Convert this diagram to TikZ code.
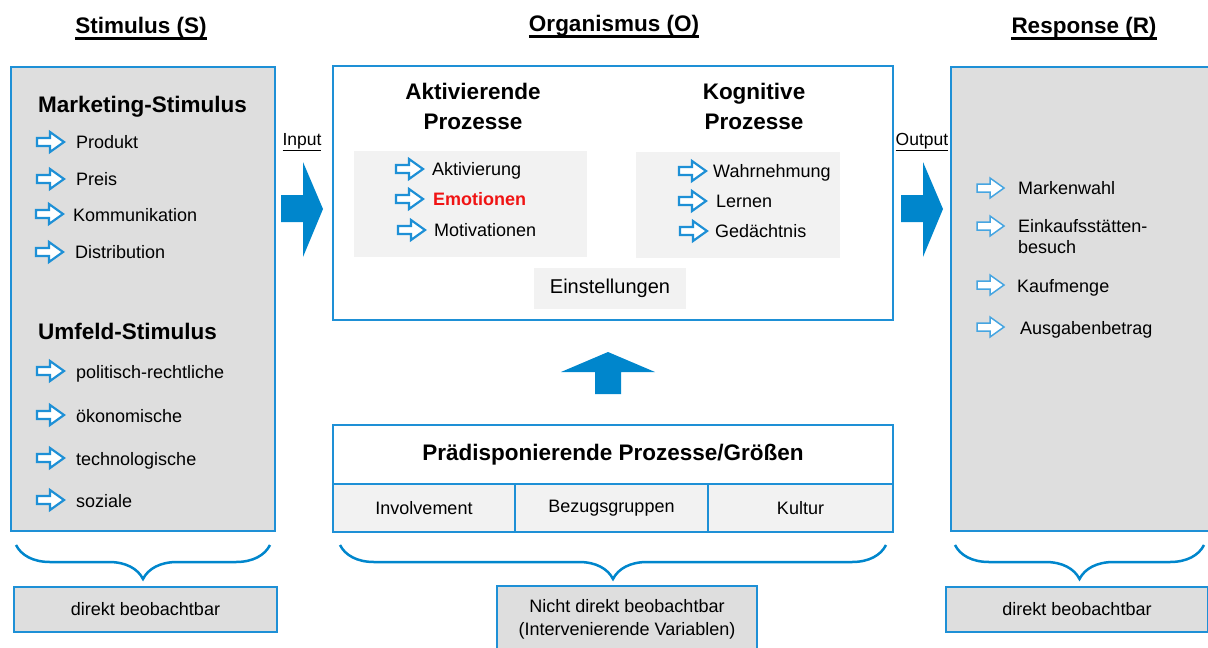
\documentclass[tikz,border=0pt]{standalone}
\usepackage{fontspec}
\setmainfont{Liberation Sans}
\usetikzlibrary{decorations.pathreplacing}
\definecolor{sorblue}{RGB}{0,134,204}
\definecolor{sorline}{RGB}{30,144,214}
\definecolor{sorlight}{RGB}{70,165,225}
\definecolor{sorgray}{RGB}{222,222,222}
\definecolor{sorpanel}{RGB}{242,242,242}
\definecolor{sorred}{RGB}{240,20,20}
\begin{document}
\begin{tikzpicture}[x=1pt,y=-1pt,inner sep=0pt,
  ttl/.style={font=\bfseries\fontsize{22.5}{26}\selectfont,text depth=0pt},
  head/.style={font=\bfseries\fontsize{22.5}{30}\selectfont,align=center},
  item/.style={anchor=west,font=\fontsize{18}{21}\selectfont,text height=15pt,text depth=2pt},
  io/.style={font=\fontsize{17.5}{20}\selectfont},
  sbox/.style={draw=sorline,line width=1.5pt,fill=sorgray},
  obox/.style={draw=sorline,line width=2.5pt,fill=white},
  panel/.style={fill=sorpanel},
  cell/.style={draw=sorline,line width=2.5pt,fill=sorpanel,minimum height=48pt,font=\fontsize{18}{21}\selectfont},
  note/.style={draw=sorline,line width=1.5pt,fill=sorgray,align=center,font=\fontsize{18}{23}\selectfont},
  brc/.style={draw=sorblue,line width=2.5pt,decorate,decoration={brace,mirror,amplitude=34pt}},
  bigarr/.style={fill=sorblue},
  itemarr/.pic={\draw[sorline,line width=2.2pt,fill=white] (0,-4)--(13,-4)--(13,-10)--(27,0)--(13,10)--(13,4)--(0,4)--cycle;},
  itemarrl/.pic={\draw[sorlight,line width=1.5pt,fill=white] (0,-4)--(13,-4)--(13,-10)--(27,0)--(13,10)--(13,4)--(0,4)--cycle;}]
\useasboundingbox (0,0) rectangle (1208,648);
% titles
\node[ttl] (stit) at (141,25) {Stimulus (S)};
\node[ttl] (otit) at (614,23) {Organismus (O)};
\node[ttl] (rtit) at (1084,25) {Response (R)};
\foreach \t in {stit,otit,rtit}
  \draw[line width=2.5pt] ([yshift=-5pt]\t.south west) -- ([yshift=-5pt]\t.south east);
% stimulus
\node[sbox,minimum width=264pt,minimum height=464pt] (lbox) at (143,299) {};
\node[head,anchor=west] (mstim) at (38,107) {Marketing-Stimulus};
\pic at (37,142) {itemarr}; \node[item] (prod) at (76,142) {Produkt};
\pic at (37,179) {itemarr}; \node[item] (preis) at (76,179) {Preis};
\pic at (36,214) {itemarr}; \node[item] (komm) at (73,215) {Kommunikation};
\pic at (36,252) {itemarr}; \node[item] (dist) at (75,252) {Distribution};
\node[head,anchor=west] (ustim) at (38,331) {Umfeld-Stimulus};
\pic at (37,371) {itemarr}; \node[item] (polit) at (76,372) {politisch-rechtliche};
\pic at (37,415) {itemarr}; \node[item] (oeko) at (76,416) {ökonomische};
\pic at (37,458) {itemarr}; \node[item] (tech) at (76,459) {technologische};
\pic at (37,500) {itemarr}; \node[item] (soz) at (76,501) {soziale};
% organismus
\node[obox,minimum width=560pt,minimum height=254pt] (obox) at (613,193) {};
\node[head] (aproz) at (473,106) {Aktivierende\\Prozesse};
\node[head] (kproz) at (754,106) {Kognitive\\Prozesse};
\node[panel,minimum width=233pt,minimum height=106pt] (apan) at (470.5,204) {};
\node[panel,minimum width=204pt,minimum height=106pt] (kpan) at (738,205) {};
\pic at (396,169) {itemarr}; \node[item] (aktiv) at (432,169) {Aktivierung};
\pic at (396,199) {itemarr}; \node[item,font=\bfseries\fontsize{18}{21}\selectfont,text=sorred] (emo) at (433,199) {Emotionen};
\pic at (398,230) {itemarr}; \node[item] (moti) at (434,230) {Motivationen};
\pic at (679,171) {itemarr}; \node[item] (wahr) at (713,171) {Wahrnehmung};
\pic at (679,201) {itemarr}; \node[item] (lern) at (716,201) {Lernen};
\pic at (680,231) {itemarr}; \node[item] (gedae) at (715,231) {Gedächtnis};
\node[panel,minimum width=152pt,minimum height=41pt,font=\fontsize{20}{24}\selectfont] (einst) at (610,288) {Einstellungen};
% input / output
\node[io] (inp) at (302,142) {\underline{Input}};
\fill[bigarr] (281,195) -- (303,195) -- (303,162) -- (323,209) -- (303,257) -- (303,222) -- (281,222) -- cycle;
\node[io] (outp) at (922,142) {\underline{Output}};
\fill[bigarr] (901,195) -- (923,195) -- (923,162) -- (943,209) -- (923,257) -- (923,222) -- (901,222) -- cycle;
\fill[bigarr] (595,394) -- (595,372) -- (561,372) -- (608,352) -- (655,372) -- (621,372) -- (621,394) -- cycle;
% response
\node[sbox,minimum width=258pt,minimum height=464pt] (rbox) at (1080,299) {};
\pic at (977,188) {itemarrl}; \node[item] (marke) at (1018,188) {Markenwahl};
\pic at (977,226) {itemarrl}; \node[anchor=west,align=left,font=\fontsize{18}{21}\selectfont] (einkauf) at (1018,237) {Einkaufsstätten-\\besuch};
\pic at (977,285) {itemarrl}; \node[item] (menge) at (1017,286) {Kaufmenge};
\pic at (977,327) {itemarrl}; \node[item] (ausg) at (1020,328) {Ausgabenbetrag};
% praedisponierende
\node[obox,minimum width=560pt,minimum height=59pt,font=\bfseries\fontsize{22.5}{26}\selectfont] (pbox) at (613,454.5) {Prädisponierende Prozesse/Größen};
\node[cell,minimum width=182pt] (inv) at (424,508) {Involvement};
\node[cell,minimum width=193pt] (bez) at (611.5,508) {Bezugsgruppen};
\node[cell,minimum width=185pt] (kult) at (800.5,508) {Kultur};
% braces
\draw[brc] (16,545) -- (270,545);
\draw[brc] (340,545) -- (886,545);
\draw[brc] (955,545) -- (1204,545);
\node[note,minimum width=263pt,minimum height=45pt] (ldir) at (145.5,609.5) {direkt beobachtbar};
\node[note,minimum width=260pt,minimum height=66pt] (mdir) at (627,619) {Nicht direkt beobachtbar\\(Intervenierende Variablen)};
\node[note,minimum width=262pt,minimum height=45pt] (rdir) at (1077,609.5) {direkt beobachtbar};
\end{tikzpicture}
\end{document}
